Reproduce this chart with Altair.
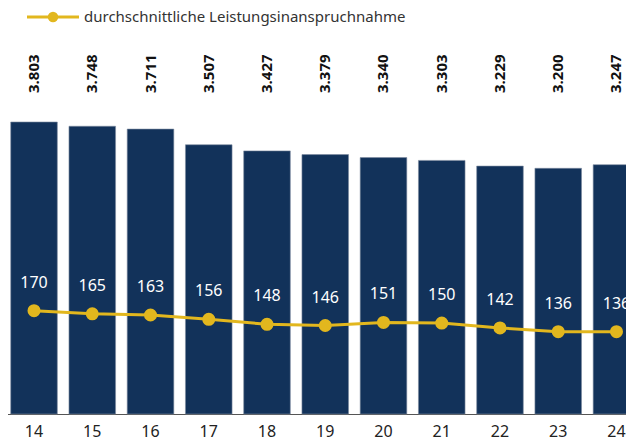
import altair as alt
import pandas as pd

years = ["14", "15", "16", "17", "18", "19", "20", "21", "22", "23", "24"]
totals = [3803, 3748, 3711, 3507, 3427, 3379, 3340, 3303, 3229, 3200, 3247]
total_labels = ["3.803", "3.748", "3.711", "3.507", "3.427", "3.379",
                "3.340", "3.303", "3.229", "3.200", "3.247"]
avg_use = [170, 165, 163, 156, 148, 146, 151, 150, 142, 136, 136]
legend_label = "durchschnittliche Leistungsinanspruchnahme"

NAVY = "#12325A"
GOLD = "#E2B71E"
FONT = "Noto Sans"

df = pd.DataFrame({
    "year": years,
    "total": totals,
    "total_label": total_labels,
    "avg": avg_use,
})

x_enc = alt.X(
    "year:N",
    sort=years,
    title=None,
    scale=alt.Scale(range=[-3.1, 637.6], paddingInner=0.2, paddingOuter=0.1),
    axis=alt.Axis(
        ticks=False,
        domainColor="#555555",
        domainWidth=1,
        labelAngle=0,
        labelFont=FONT,
        labelFontSize=16,
        labelColor="#222222",
        labelBaseline="middle",
        labelPadding=17,
        grid=False,
    ),
)

base = alt.Chart(df)

bars = base.mark_bar(color=NAVY, stroke="#7d8ca0", strokeWidth=0.6).encode(
    x=x_enc,
    y=alt.Y("total:Q", scale=alt.Scale(domain=[0, 5288]), axis=None),
)

top_labels = base.mark_text(
    angle=270, align="left", baseline="middle",
    font=FONT, fontWeight="bold", fontSize=15, color="#111111",
).encode(
    x=x_enc,
    y=alt.value(85),
    text="total_label:N",
)

avg_scale = alt.Scale(domain=[2.7, 660.1])

line = base.mark_line(color=GOLD, strokeWidth=3).encode(
    x=x_enc,
    y=alt.Y("avg:Q", scale=avg_scale, axis=None),
)

points = base.mark_circle(color=GOLD, size=170, opacity=1).encode(
    x=x_enc,
    y=alt.Y("avg:Q", scale=avg_scale, axis=None),
)

point_labels = base.mark_text(
    dy=-28, color="white", font=FONT, fontSize=16, baseline="middle",
).encode(
    x=x_enc,
    y=alt.Y("avg:Q", scale=avg_scale, axis=None),
    text="avg:Q",
)

leg_df = pd.DataFrame({"label": [legend_label]})
leg_base = alt.Chart(leg_df)
leg_line = leg_base.mark_rule(color=GOLD, strokeWidth=3).encode(
    x=alt.value(19), x2=alt.value(71), y=alt.value(9)
)
leg_dot = leg_base.mark_circle(color=GOLD, size=110, opacity=1).encode(
    x=alt.value(45), y=alt.value(9)
)
leg_text = leg_base.mark_text(
    align="left", baseline="middle", font=FONT, fontSize=15, color="#333333"
).encode(
    x=alt.value(76), y=alt.value(9), text="label:N"
)

chart = alt.layer(
    bars, top_labels, line, points, point_labels, leg_line, leg_dot, leg_text
).resolve_scale(
    y="independent"
).properties(
    width=618,
    height=406,
    autosize=alt.AutoSizeParams(type="none"),
    padding={"left": 0, "top": 0, "right": 0, "bottom": 26},
    background="white",
).configure_view(
    stroke=None
)

chart.save("out.html", embed_options={"renderer": "svg", "actions": False})
